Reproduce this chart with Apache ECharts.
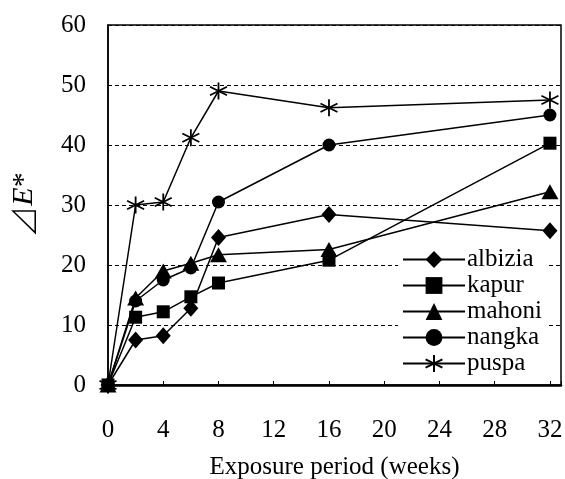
<!DOCTYPE html>
<html>
<head>
<meta charset="utf-8">
<script src="https://cdn.jsdelivr.net/npm/echarts@6/dist/echarts.min.js"></script>
<style>html,body{margin:0;padding:0;background:#fff;}#chart{width:565px;height:479px;}</style>
</head>
<body>
<div id="chart"></div>
<script>
const weeks = [0, 2, 4, 6, 8, 16, 32];
const albizia = [0, 7.5, 8.2, 12.8, 24.6, 28.4, 25.7];
const kapur = [0, 11.3, 12.2, 14.7, 17.0, 20.8, 40.3];
const mahoni = [0, 14.5, 19.0, 20.3, 21.7, 22.6, 32.2];
const nangka = [0, 14.0, 17.5, 19.5, 30.5, 40.0, 45.0];
const puspa = [0, 30.0, 30.5, 41.2, 49.0, 46.2, 47.5];
const seriesNames = ['albizia', 'kapur', 'mahoni', 'nangka', 'puspa'];
const xTickLabels = ['0', '4', '8', '12', '16', '20', '24', '28', '32'];
const yTickLabels = ['0', '10', '20', '30', '40', '50', '60'];

const FONT = '"Liberation Serif", "Times New Roman", serif';
const asterisk = 'path://M0,-10L0,10M-8.7,-5L8.7,5M-8.7,5L8.7,-5';
const symbols = ['diamond', 'rect', 'triangle', 'circle', asterisk];
const sizes = [[15, 17], 13, [17, 15], 13, 17];
const values = [albizia, kapur, mahoni, nangka, puspa];
const zs = [2, 3, 5, 4, 6];

const series = seriesNames.map((name, i) => ({
  name: name,
  type: 'line',
  data: weeks.map((w, j) => [w, values[i][j]]),
  symbol: symbols[i],
  symbolSize: sizes[i],
  showAllSymbol: true,
  z: zs[i],
  lineStyle: { color: '#000', width: 1.5 },
  itemStyle: i === 4 ? { color: '#000', borderColor: '#000', borderWidth: 1.8 } : { color: '#000', borderWidth: 0 },
  emphasis: { disabled: true },
  animation: false
}));

const chart = echarts.init(document.getElementById('chart'), null, { renderer: 'canvas' });
chart.setOption({
  backgroundColor: '#fff',
  animation: false,
  grid: { left: 108, right: 4, top: 25, bottom: 94, show: true, borderColor: '#000', borderWidth: 1.5, backgroundColor: 'transparent', outerBoundsMode: 'none', containLabel: false },
  xAxis: {
    type: 'value', min: 0, max: 32.8, interval: 4,
    name: 'Exposure period (weeks)', nameLocation: 'middle', nameGap: 70,
    nameTextStyle: { fontFamily: FONT, fontSize: 25, color: '#000' },
    axisLine: { show: true, lineStyle: { color: '#000', width: 2.5 } },
    axisTick: { show: true, inside: true, length: 4, lineStyle: { color: '#000', width: 1 } },
    axisLabel: {
      margin: 33, fontFamily: FONT, fontSize: 25, color: '#000',
      formatter: v => { const i = xTickLabels.indexOf(String(v)); return i >= 0 ? xTickLabels[i] : ''; }
    },
    splitLine: { show: false }
  },
  yAxis: {
    type: 'value', min: 0, max: 60, interval: 10,
    name: '{t|⊿}{e|E}{a|*}', nameLocation: 'middle', nameGap: 68, nameRotate: 90,
    nameTextStyle: {
      color: '#000',
      rich: {
        t: { fontFamily: '"Noto Sans CJK JP"', fontSize: 32, fontWeight: 300, color: '#000' },
        a: { fontFamily: FONT, fontSize: 30, color: '#000' },
        e: { fontFamily: FONT, fontSize: 30, fontStyle: 'italic', color: '#000' }
      }
    },
    axisLine: { show: true, lineStyle: { color: '#000', width: 1.5 } },
    axisTick: { show: false },
    axisLabel: {
      margin: 22, fontFamily: FONT, fontSize: 25, color: '#000',
      formatter: v => { const i = yTickLabels.indexOf(String(v)); return i >= 0 ? yTickLabels[i] : ''; }
    },
    splitLine: { show: true, lineStyle: { color: '#000', width: 1, type: [4, 3] } }
  },
  legend: {
    orient: 'vertical', left: 398, top: 245,
    backgroundColor: '#fff', padding: [2, 6, 2, 4],
    itemWidth: 62, itemHeight: 21, itemGap: 1,
    textStyle: { fontFamily: FONT, fontSize: 25, lineHeight: 22, color: '#000', padding: [0, 0, 0, -3] },
    data: seriesNames
  },
  series: series
});
</script>
</body>
</html>
